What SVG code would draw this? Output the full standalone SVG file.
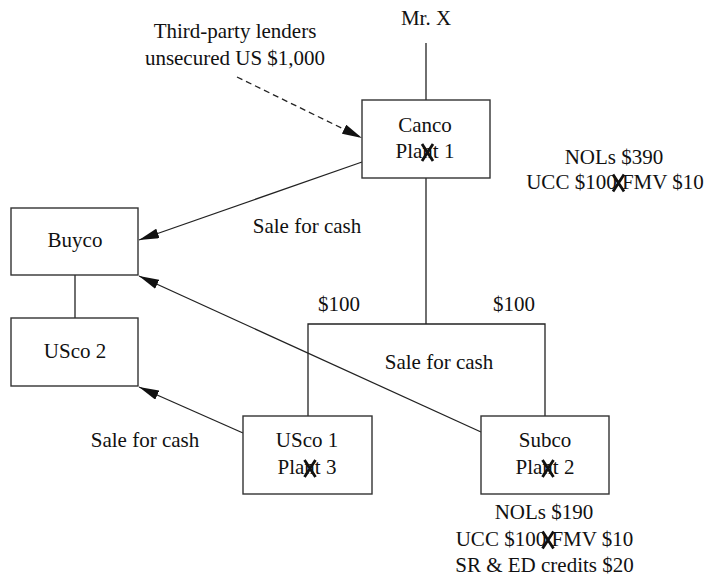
<svg xmlns="http://www.w3.org/2000/svg" width="707" height="578" viewBox="0 0 707 578">
<style>
text{font-family:"Liberation Serif","Times New Roman",serif;font-size:21px;fill:#111;text-anchor:middle}
.box{fill:#fff;stroke:#333;stroke-width:1.4}
.ln{fill:none;stroke:#222;stroke-width:1.3}
.dash{stroke-dasharray:6 4}
.xm{fill:none;stroke:#111;stroke-width:2.8}
</style>
<defs>
<marker id="ah" viewBox="0 0 20 10" refX="20" refY="5" markerWidth="20" markerHeight="10" markerUnits="userSpaceOnUse" orient="auto">
<path d="M0,0 L20,5 L0,10 z" fill="#111"/>
</marker>
<path id="xmark" class="xm" d="M-5.5,-8.5 L5.5,8.5 M5.5,-8.5 L-5.5,8.5"/>
</defs>
<g id="connectors">
<line class="ln" x1="426" y1="43" x2="426" y2="100"/>
<line class="ln" x1="426" y1="178" x2="426" y2="324"/>
<polyline class="ln" points="308,416 308,324 545,324 545,416"/>
<line class="ln" x1="75" y1="275" x2="75" y2="318"/>
<line class="ln dash" x1="237" y1="77" x2="362" y2="138" marker-end="url(#ah)"/>
<line class="ln" x1="362" y1="162" x2="139" y2="240" marker-end="url(#ah)"/>
<line class="ln" x1="481" y1="432" x2="139" y2="276" marker-end="url(#ah)"/>
<line class="ln" x1="243" y1="433" x2="139" y2="387" marker-end="url(#ah)"/>
</g>
<g id="labels">
<text x="426" y="25">Mr. X</text>
<text x="235" y="38">Third-party lenders</text>
<text x="235" y="65">unsecured US $1,000</text>
<text x="307" y="233">Sale for cash</text>
<text x="439" y="369">Sale for cash</text>
<text x="145" y="447">Sale for cash</text>
<text x="339" y="311">$100</text>
<text x="514" y="311">$100</text>
<text x="614" y="164">NOLs $390</text>
<text x="615" y="189">UCC $100 FMV $10</text>
<use href="#xmark" x="618.5" y="183"/>
<text x="544" y="519">NOLs $190</text>
<text x="544.5" y="546">UCC $100 FMV $10</text>
<use href="#xmark" x="548" y="540"/>
<text x="544.5" y="572">SR &amp; ED credits $20</text>
</g>
<g id="canco">
<rect class="box" x="362" y="100" width="128" height="78"/>
<text x="425" y="132">Canco</text>
<text x="425" y="158">Plant 1</text>
<use href="#xmark" x="427.5" y="152.5"/>
</g>
<g id="buyco">
<rect class="box" x="11" y="208" width="127" height="67"/>
<text x="75" y="247">Buyco</text>
</g>
<g id="usco2">
<rect class="box" x="11" y="318" width="127" height="68"/>
<text x="75" y="358">USco 2</text>
</g>
<g id="usco1">
<rect class="box" x="243" y="416" width="129" height="78"/>
<text x="307" y="447">USco 1</text>
<text x="307" y="474">Plant 3</text>
<use href="#xmark" x="310" y="468.5"/>
</g>
<g id="subco">
<rect class="box" x="481" y="416" width="128" height="78"/>
<text x="545" y="447">Subco</text>
<text x="545" y="474">Plant 2</text>
<use href="#xmark" x="548" y="468.5"/>
</g>
</svg>
